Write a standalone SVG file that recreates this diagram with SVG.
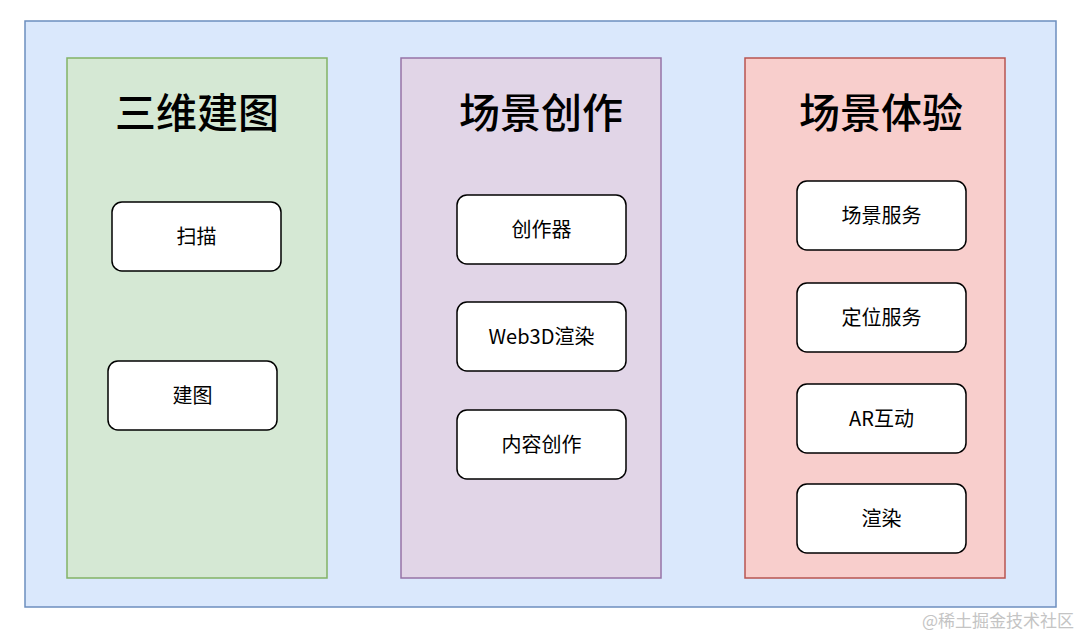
<svg xmlns="http://www.w3.org/2000/svg" width="1080" height="636" viewBox="0 0 1080 636">
<style>
.t{font-family:"Noto Sans CJK SC","Liberation Sans",sans-serif;fill:#000;text-anchor:middle}
.title{font-size:41px;font-weight:500}
.lbl{font-size:20px}
.node rect{fill:#fff;stroke:#000;stroke-width:1.5}
.wm{font-family:"Noto Sans CJK SC",sans-serif;font-size:17px;fill:#c4c4c4;text-anchor:end}
</style>
<rect width="1080" height="636" fill="#fff"/>
<g id="outer"><rect x="25" y="21" width="1031" height="586" fill="#dae8fc" stroke="#6c8ebf" stroke-width="1.5"/></g>
<g id="col-3d"><rect x="67" y="58" width="260" height="520" fill="#d5e8d4" stroke="#82b366" stroke-width="1.5"/><text class="t title" x="197" y="128">三维建图</text></g>
<g id="col-create"><rect x="401" y="58" width="260" height="520" fill="#e1d5e7" stroke="#9673a6" stroke-width="1.5"/><text class="t title" x="541" y="128">场景创作</text></g>
<g id="col-exp"><rect x="745" y="58" width="260" height="520" fill="#f8cecc" stroke="#b85450" stroke-width="1.5"/><text class="t title" x="881" y="128">场景体验</text></g>
<g id="n-scan" class="node"><rect x="112" y="202" width="169" height="69" rx="10"/><text class="t lbl" x="196.500" y="243.500">扫描</text></g>
<g id="n-map" class="node"><rect x="108" y="361" width="169" height="69" rx="10"/><text class="t lbl" x="192.500" y="402.500">建图</text></g>
<g id="n-editor" class="node"><rect x="457" y="195" width="169" height="69" rx="10"/><text class="t lbl" x="541.500" y="236.500">创作器</text></g>
<g id="n-web3d" class="node"><rect x="457" y="302" width="169" height="69" rx="10"/><text class="t lbl" x="541.500" y="343.500">Web3D渲染</text></g>
<g id="n-content" class="node"><rect x="457" y="410" width="169" height="69" rx="10"/><text class="t lbl" x="541.500" y="451.500">内容创作</text></g>
<g id="n-scene" class="node"><rect x="797" y="181" width="169" height="69" rx="10"/><text class="t lbl" x="881.500" y="222.500">场景服务</text></g>
<g id="n-loc" class="node"><rect x="797" y="283" width="169" height="69" rx="10"/><text class="t lbl" x="881.500" y="324.500">定位服务</text></g>
<g id="n-ar" class="node"><rect x="797" y="384" width="169" height="69" rx="10"/><text class="t lbl" x="881.500" y="425.500">AR互动</text></g>
<g id="n-render" class="node"><rect x="797" y="484" width="169" height="69" rx="10"/><text class="t lbl" x="881.500" y="525.500">渲染</text></g>
<g id="connectors"></g>
<text class="wm" x="1074" y="627">@稀土掘金技术社区</text>
</svg>
